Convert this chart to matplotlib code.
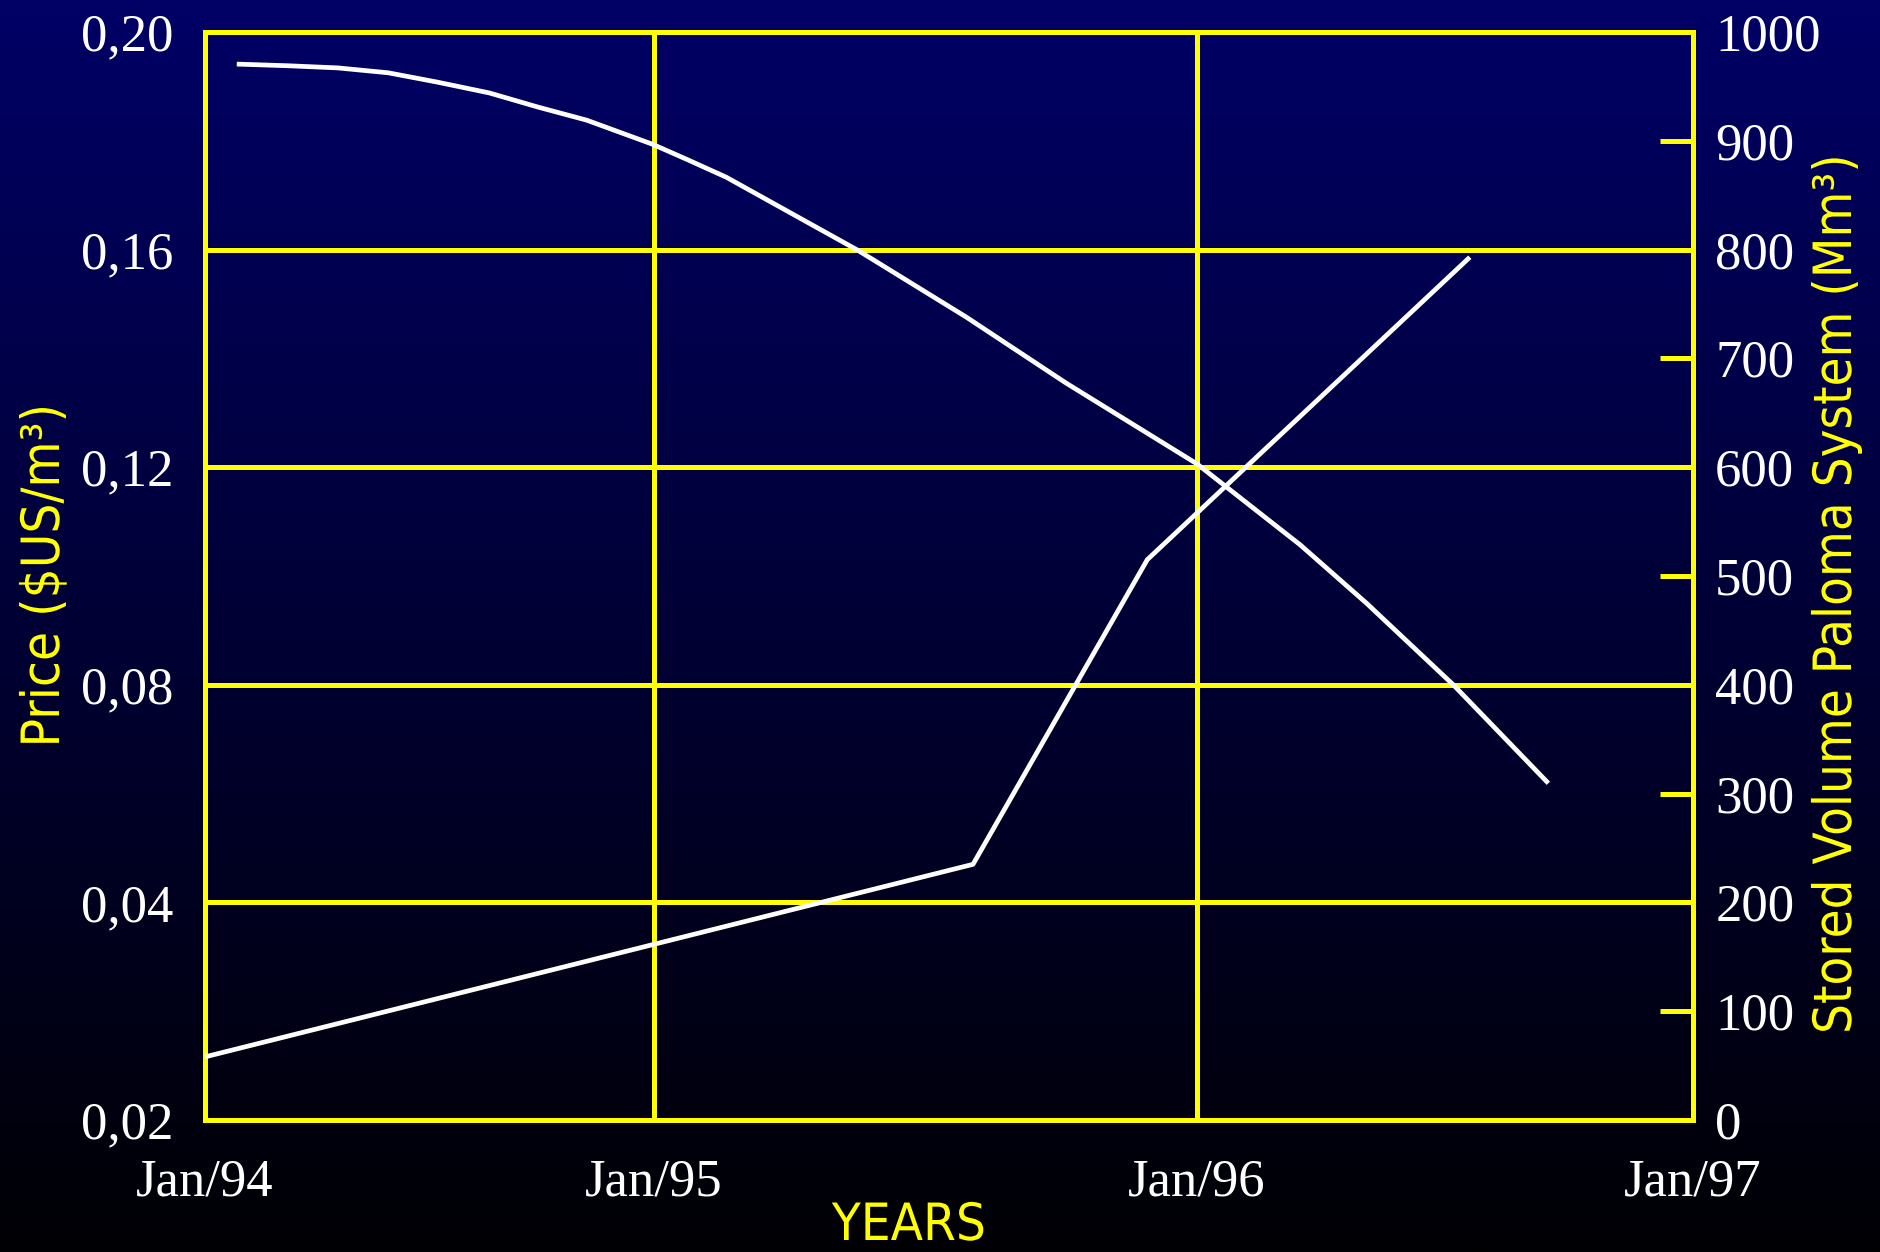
import numpy as np
import matplotlib
matplotlib.use("Agg")
import matplotlib.pyplot as plt
from matplotlib.patheffects import AbstractPathEffect
from matplotlib.transforms import Affine2D

# ---- data -------------------------------------------------------------
# time axis in months counted from Jan/94
tick_months = [0, 12, 24, 36]
tick_labels = ["Jan/94", "Jan/95", "Jan/96", "Jan/97"]
tick_frac = [0.0, 0.3017, 0.6667, 1.0]   # where each year mark sits along the axis

price_months = [0.85, 2.2, 3.55, 4.9, 6.2, 7.6, 8.9, 10.2, 11.95, 12.75,
                13.6, 16.5, 18.9, 21.1, 24.0, 26.5, 28.1, 30.2, 32.5]
price_values = [0.1941, 0.1938, 0.1934, 0.1925, 0.1908, 0.1888, 0.1862,
                0.1838, 0.1794, 0.1765, 0.1733, 0.1599, 0.1476, 0.1355,
                0.1206, 0.1057, 0.0950, 0.0800, 0.0619]

volume_months = [0.0, 19.05, 22.9, 30.6]
volume_values = [58, 235, 515, 793]

price_ticks = [0.0, 0.04, 0.08, 0.12, 0.16, 0.20]
price_tick_labels = ["0,02", "0,04", "0,08", "0,12", "0,16", "0,20"]
volume_ticks = list(range(0, 1001, 100))

YELLOW = "#ffff00"
SERIF = "Liberation Serif"
SANS = "DejaVu Sans"


class SqueezeX(AbstractPathEffect):
    """Narrow the glyphs of a text horizontally about their own centre."""

    def __init__(self, sx=1.0):
        super().__init__()
        self.sx = sx

    def draw_path(self, renderer, gc, tpath, affine, rgbFace=None):
        ext = tpath.get_extents()
        cx = 0.5 * (ext.x0 + ext.x1)
        pre = Affine2D().translate(-cx, 0).scale(self.sx, 1).translate(cx, 0)
        renderer.draw_path(gc, tpath, pre + affine, rgbFace)


plt.rcParams["font.family"] = [SERIF, "DejaVu Serif"]

fig = plt.figure(figsize=(18.8, 12.52), dpi=100)

# vertical navy-to-black backdrop
bg = fig.add_axes([0, 0, 1, 1], zorder=-10)
bg.axis("off")
grad = np.linspace(0, 1, 512)[:, None, None]
top = np.array([0, 0, 102]) / 255
bottom = np.array([0, 0, 4]) / 255
bg.imshow(top + (bottom - top) * grad, aspect="auto", extent=[0, 1, 0, 1],
          origin="upper")

ax = fig.add_axes([205 / 1880, 132 / 1252, 1488 / 1880, 1088 / 1252])
ax.set_facecolor("none")


def fwd(m):
    return np.interp(m, tick_months, tick_frac)


def inv(f):
    return np.interp(f, tick_frac, tick_months)


ax.set_xscale("function", functions=(fwd, inv))
ax.set_xlim(0, 36)
ax.set_xticks(tick_months, labels=tick_labels)

ax.set_ylim(0, 0.20)
ax.set_yticks(price_ticks, labels=price_tick_labels)

ax.grid(True, color=YELLOW, lw=3.6)
ax.tick_params(axis="both", length=0, labelcolor="white", labelsize=38)
ax.tick_params(axis="y", pad=23)
ax.tick_params(axis="x", pad=28)

ax2 = ax.twinx()
ax2.set_ylim(0, 1000)
ax2.set_yticks(volume_ticks)
ax2.tick_params(axis="y", direction="in", length=24, width=3.6, color=YELLOW,
                pad=16, labelsize=38, labelcolor="white")

for a in (ax, ax2):
    for sp in a.spines.values():
        sp.set_color(YELLOW)
        sp.set_linewidth(3.6)

ax.plot(price_months, price_values, color="white", lw=3.4,
        solid_capstyle="butt", zorder=3)
ax2.plot(volume_months, volume_values, color="white", lw=3.4,
         solid_capstyle="butt", zorder=3)

# axis titles
t_price = fig.text(44 / 1880, 1 - 576 / 1252, "Price ($US/m³)", rotation=90,
                   ha="center", va="center", color=YELLOW, fontsize=38,
                   family=SANS)
t_vol = fig.text(1836 / 1880, 1 - 595 / 1252,
                 "Stored Volume Paloma System (Mm³)", rotation=90,
                 ha="center", va="center", color=YELLOW, fontsize=38,
                 family=SANS)
t_years = fig.text(909 / 1880, 1 - 1240 / 1252, "YEARS", ha="center",
                   va="baseline", color=YELLOW, fontsize=37, family=SANS)

fig.canvas.draw()
r = fig.canvas.get_renderer()
for t, target, vertical in ((t_price, 343, True), (t_vol, 878, True),
                            (t_years, 154, False)):
    bb = t.get_window_extent(r)
    natural = bb.height if vertical else bb.width
    t.set_path_effects([SqueezeX(target / natural)])

fig.savefig("out.png", dpi=100)
